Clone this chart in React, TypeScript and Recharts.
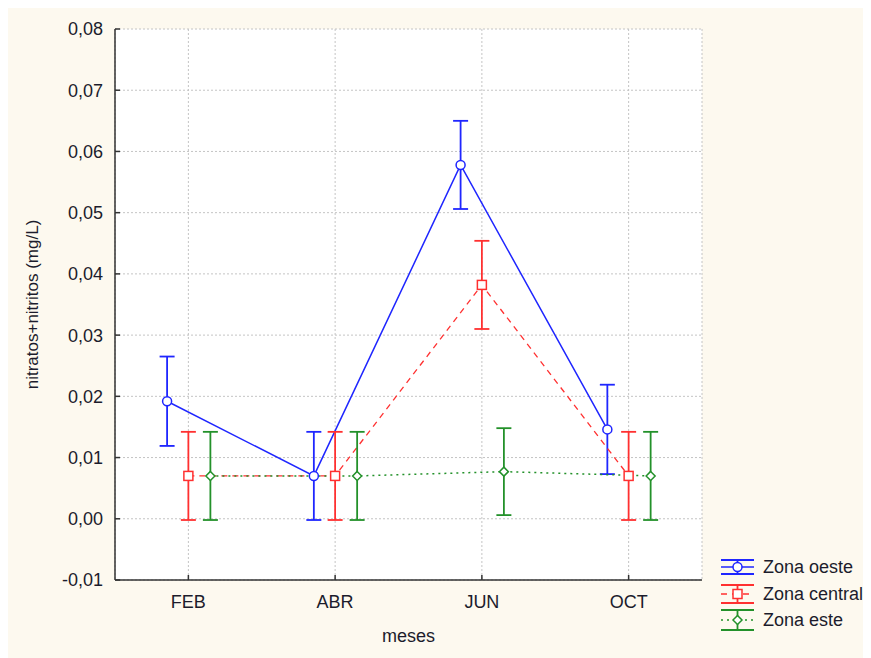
import React from 'react';
import { ComposedChart, Line, XAxis, YAxis, CartesianGrid, ErrorBar } from 'recharts';

// ---- data ----
const categories = ['FEB', 'ABR', 'JUN', 'OCT'];
const oesteMean = [0.0192, 0.007, 0.0578, 0.0146];
const oesteErr = [0.0073, 0.0072, 0.0072, 0.0073];
const centralMean = [0.007, 0.007, 0.0382, 0.007];
const centralErr = [0.0072, 0.0072, 0.0072, 0.0072];
const esteMean = [0.007, 0.007, 0.0077, 0.007];
const esteErr = [0.0072, 0.0072, 0.0071, 0.0072];
const yTicks = [-0.01, 0, 0.01, 0.02, 0.03, 0.04, 0.05, 0.06, 0.07, 0.08];
const seriesNames = ['Zona oeste', 'Zona central', 'Zona este'];

// ---- styles ----
const BLUE = '#1f26ff';
const RED = '#ff3030';
const GREEN = '#23912a';
const FONT = '"Liberation Sans", Arial, sans-serif';
const TEXT = '#1c1c2c';

const W = 863;
const H = 650;

type Shape = 'circle' | 'square' | 'diamond';
const styles: { color: string; dash?: string; shift: number; shape: Shape; width: number }[] = [
  { color: BLUE, dash: undefined, shift: -0.145, shape: 'circle', width: 1.5 },
  { color: RED, dash: '6 5', shift: 0, shape: 'square', width: 1.3 },
  { color: GREEN, dash: '2 4', shift: 0.15, shape: 'diamond', width: 1.5 },
];

const means = [oesteMean, centralMean, esteMean];
const errs = [oesteErr, centralErr, esteErr];

const seriesData = means.map((m, s) =>
  categories.map((c, i) => ({ cat: c, x: i + styles[s].shift, y: m[i], err: errs[s][i] }))
);

function Marker({ cx, cy, shape, color }: { cx: number; cy: number; shape: Shape; color: string }) {
  if (cx == null || cy == null) return null;
  if (shape === 'circle') {
    return <circle cx={cx} cy={cy} r={4.5} fill="#fff" stroke={color} strokeWidth={1.5} />;
  }
  if (shape === 'square') {
    return <rect x={cx - 4.5} y={cy - 4.5} width={9} height={9} fill="#fff" stroke={color} strokeWidth={1.5} />;
  }
  const d = 4.5;
  return (
    <polygon
      points={`${cx},${cy - d} ${cx + d},${cy} ${cx},${cy + d} ${cx - d},${cy}`}
      fill="#fff"
      stroke={color}
      strokeWidth={1.5}
    />
  );
}

const fmt = (v: number) => (Math.abs(v) < 1e-9 ? '0,00' : v.toFixed(2).replace('.', ','));

function LegendOverlay() {
  const rows = [
    { cy: 559, h: 7 },
    { cy: 586, h: 9 },
    { cy: 612, h: 10 },
  ];
  const x0 = 713;
  const x1 = 746;
  const xm = (x0 + x1) / 2;
  return (
    <svg width={W} height={H} style={{ position: 'absolute', left: 0, top: 0, pointerEvents: 'none', overflow: 'visible' }}>
      {rows.map((r, i) => {
        const st = styles[i];
        return (
          <g key={i}>
            <line x1={x0} x2={x1} y1={r.cy - r.h} y2={r.cy - r.h} stroke={st.color} strokeWidth={1.8} />
            <line x1={x0} x2={x1} y1={r.cy + r.h} y2={r.cy + r.h} stroke={st.color} strokeWidth={1.8} />
            <line x1={xm} x2={xm} y1={r.cy - r.h} y2={r.cy + r.h} stroke={st.color} strokeWidth={1.8} />
            <line x1={x0} x2={x1} y1={r.cy} y2={r.cy} stroke={st.color} strokeWidth={st.width} strokeDasharray={st.dash} />
            <Marker cx={xm} cy={r.cy} shape={st.shape} color={st.color} />
            <text x={755} y={r.cy + 6} fontSize={18} fontFamily={FONT} fill={TEXT}>
              {seriesNames[i]}
            </text>
          </g>
        );
      })}
    </svg>
  );
}

export default function App() {
  return (
    <div style={{ position: 'relative', width: W, height: H, background: '#fdf9ef' }}>
      <ComposedChart width={W} height={H} margin={{ top: 21, right: 169, bottom: 0, left: 0 }}>
        <CartesianGrid
          fill="#ffffff"
          stroke="#c4c4c4"
          strokeDasharray="2 2"
          strokeWidth={1}
        />
        <XAxis
          xAxisId={0}
          dataKey="x"
          type="number"
          domain={[-0.5, 3.5]}
          ticks={[0, 1, 2, 3]}
          tickFormatter={(v: number) => categories[Math.round(v)] ?? ''}
          allowDataOverflow
          height={78}
          axisLine={{ stroke: '#333', strokeWidth: 1.5 }}
          tickLine={{ stroke: '#333', strokeWidth: 1.5 }}
          tickSize={-5}
          tickMargin={20}
          tick={{ fill: TEXT, fontSize: 18, fontFamily: FONT }}
          label={{ value: 'meses', position: 'insideBottom', offset: 16, fill: TEXT, fontSize: 18, fontFamily: FONT }}
        />
        <XAxis
          xAxisId="top"
          orientation="top"
          dataKey="x"
          type="number"
          domain={[-0.5, 3.5]}
          ticks={[0, 1, 2, 3]}
          allowDataOverflow
          height={0}
          axisLine={{ stroke: '#333', strokeWidth: 1.5 }}
          tickLine={{ stroke: '#333', strokeWidth: 1.5 }}
          tickSize={-5}
          tick={false}
        />
        <YAxis
          yAxisId={0}
          type="number"
          domain={[-0.01, 0.08]}
          ticks={yTicks}
          allowDataOverflow
          width={107}
          axisLine={{ stroke: '#333', strokeWidth: 1.5 }}
          tickLine={{ stroke: '#333', strokeWidth: 1.5 }}
          tickSize={-5}
          tickMargin={17}
          tickFormatter={fmt}
          tick={{ fill: TEXT, fontSize: 18, fontFamily: FONT }}
          label={{
            value: 'nitratos+nitritos (mg/L)',
            angle: -90,
            position: 'insideLeft',
            offset: 24,
            fill: TEXT,
            fontSize: 17,
            fontFamily: FONT,
            style: { textAnchor: 'middle' },
          }}
        />
        <YAxis
          yAxisId="right"
          orientation="right"
          type="number"
          domain={[-0.01, 0.08]}
          ticks={yTicks}
          allowDataOverflow
          width={0}
          axisLine={{ stroke: '#333', strokeWidth: 1.5 }}
          tickLine={{ stroke: '#333', strokeWidth: 1.5 }}
          tickSize={-5}
          tick={false}
        />
        {seriesData.map((d, s) => {
          const st = styles[s];
          return (
            <Line
              key={seriesNames[s]}
              name={seriesNames[s]}
              data={d}
              dataKey="y"
              type="linear"
              stroke={st.color}
              strokeWidth={st.width}
              strokeDasharray={st.dash}
              isAnimationActive={false}
              dot={(p: any) => <Marker key={`${s}-${p.index}`} cx={p.cx} cy={p.cy} shape={st.shape} color={st.color} />}
              activeDot={false}
            >
              <ErrorBar dataKey="err" direction="y" width={7.5} stroke={st.color} strokeWidth={1.8} />
            </Line>
          );
        })}
      </ComposedChart>
      <LegendOverlay />
    </div>
  );
}
